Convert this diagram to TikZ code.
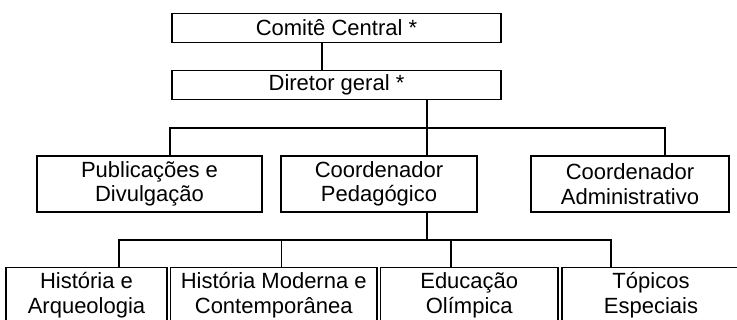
\documentclass[tikz,border=0pt]{standalone}
\usepackage{fontspec}
\setmainfont{Liberation Sans}
\begin{document}
\begin{tikzpicture}[x=1pt,y=-1pt,
  box/.style={draw, line width=1.5pt, rectangle, align=center, inner sep=0pt,
    font=\fontsize{22}{24.5}\selectfont},
  leaf/.style={draw, line width=1.1pt, rectangle, align=center, inner sep=0pt,
    minimum height=56pt, font=\fontsize{22}{24.5}\selectfont},
  conn/.style={line width=1.1pt}]
\useasboundingbox (0,0) rectangle (737,320);
\clip (0,0) rectangle (737,320);
\node[box, minimum width=329pt, minimum height=28.6pt] (com) at (336.5,28) {Comitê Central *};
\node[box, minimum width=329pt, minimum height=28.6pt] (dir) at (336.5,85) {Diretor geral *};
\node[box, minimum width=225pt, minimum height=56pt] (pub) at (149.5,184) {Publicações e\\Divulgação};
\node[box, minimum width=196pt, minimum height=56pt] (ped) at (379,184) {Coordenador\\Pedagógico};
\node[box, minimum width=198pt, minimum height=56pt] (adm) at (630,184) {Coordenador\\Administrativo};
\node[leaf, minimum width=161pt] (b1) at (86.5,295.3) {História e\\Arqueologia};
\node[leaf, minimum width=206.5pt] (b2) at (273.75,295.3) {História Moderna e\\Contemporânea};
\node[leaf, minimum width=177.5pt] (b3) at (469.25,295.3) {Educação\\Olímpica};
\node[leaf, minimum width=178pt] (b4) at (651,295.3) {Tópicos\\Especiais};
\coordinate (bus1) at (427,128);
\coordinate (bus2) at (427,240);
\coordinate (t1) at ([xshift=32.5pt]b1.north);
\coordinate (t2) at ([xshift=8pt]b2.north);
\coordinate (t3) at ([xshift=-18.25pt]b3.north);
\coordinate (t4) at ([xshift=-40pt]b4.north);
\draw[conn] ([xshift=-14.5pt]com.south) -- ([xshift=-14.5pt]dir.north);
\draw[conn] ([xshift=90.5pt]dir.south) -- ([xshift=48pt]ped.north);
\draw[conn] ([xshift=20.5pt]pub.north) |- (bus1) -| ([xshift=35pt]adm.north);
\draw[conn] ([xshift=48pt]ped.south) -- (bus2);
\draw[conn] (t1) |- (bus2) -| (t4);
\draw[conn] (t2) -- (t2 |- bus2);
\draw[conn] (t3) -- (t3 |- bus2);
\end{tikzpicture}
\end{document}
